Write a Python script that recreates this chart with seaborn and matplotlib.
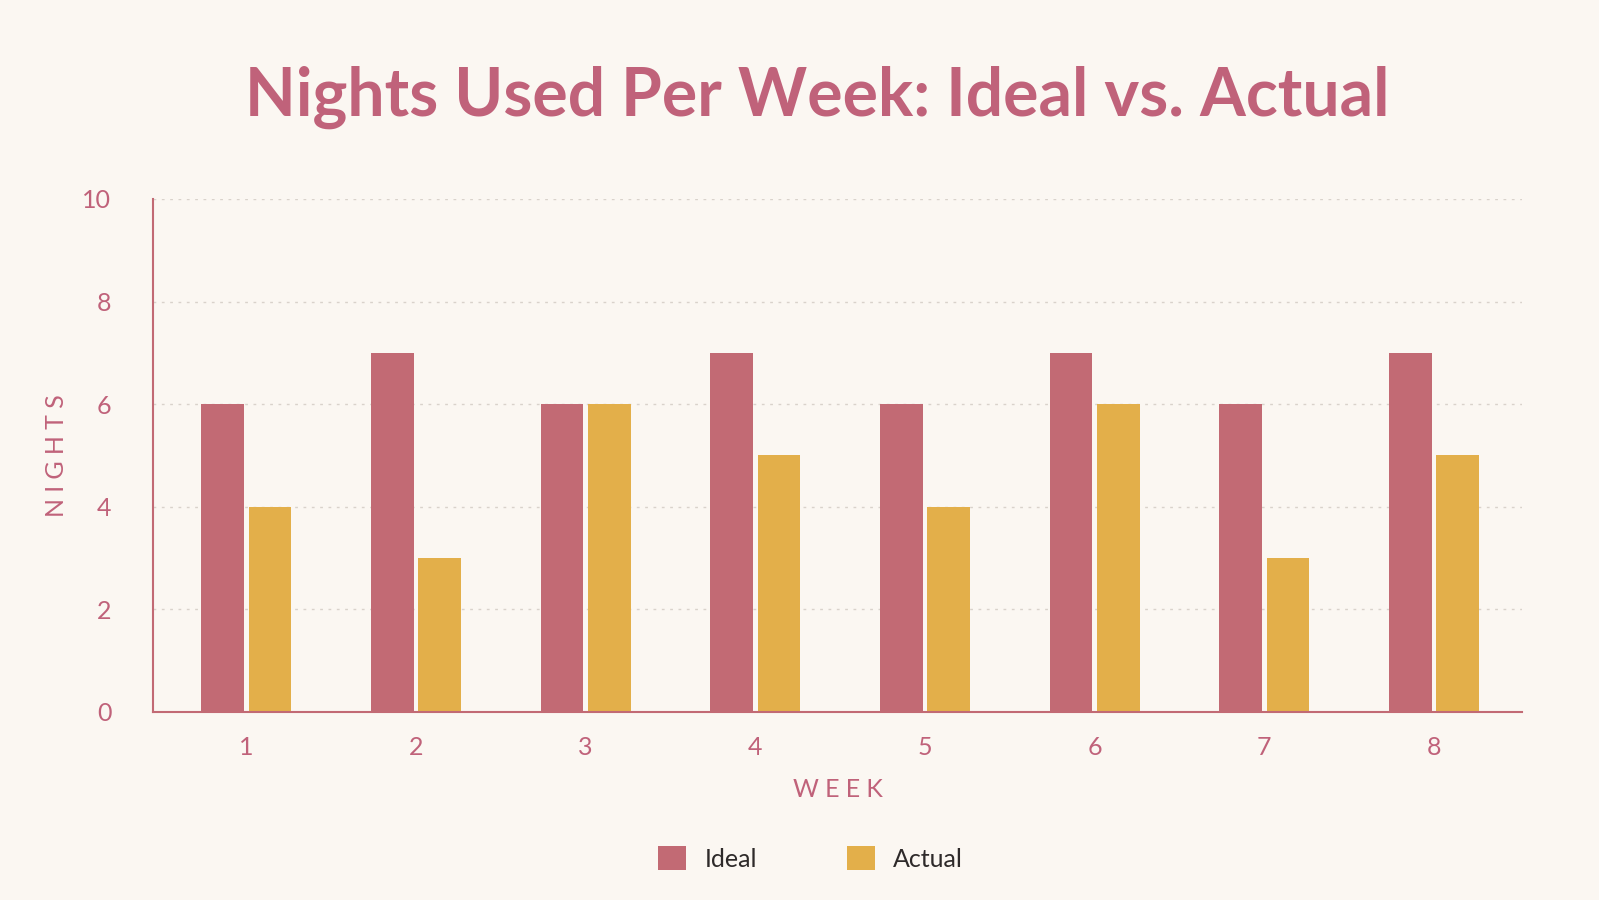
import pandas as pd
import numpy as np
import matplotlib.pyplot as plt
import seaborn as sns

# datos
semanas = ['1', '2', '3', '4', '5', '6', '7', '8']
ideal = [6, 7, 6, 7, 6, 7, 6, 7]
actual = [4, 3, 6, 5, 4, 6, 3, 5]
series = ['Ideal', 'Actual']

FONDO = '#FBF7F2'
ROSA = '#C26A74'
AMBAR = '#E3AF4A'
TEXTO = '#C0627A'
GRIS = '#D9D2CB'

df = pd.DataFrame({
    'week': semanas * 2,
    'nights': ideal + actual,
    'serie': [series[0]] * len(semanas) + [series[1]] * len(semanas),
})

sns.set_theme(style='white')
plt.rcParams['font.family'] = ['Lato', 'DejaVu Sans']

fig = plt.figure(figsize=(15.99, 9), dpi=100)
fig.patch.set_facecolor(FONDO)
ax = fig.add_axes([0.0957, 0.209, 0.8563, 0.570])
ax.set_facecolor(FONDO)

sns.barplot(data=df, x='week', y='nights', hue='serie', order=semanas,
            hue_order=series, palette=[ROSA, AMBAR], width=0.56, gap=0.1,
            saturation=1, ax=ax, legend=True, edgecolor='none')

ax.set_ylim(0, 10)
ax.set_xlim(-0.55, 7.52)
ax.set_yticks([0, 2, 4, 6, 8, 10])
ax.yaxis.grid(True, color=GRIS, linestyle=(0, (2, 4)), linewidth=1.0)
ax.set_axisbelow(True)
for lado in ['top', 'right']:
    ax.spines[lado].set_visible(False)
for lado in ['left', 'bottom']:
    ax.spines[lado].set_color(ROSA)
    ax.spines[lado].set_linewidth(1.5)
ax.tick_params(axis='both', length=0, colors=TEXTO, labelsize=18)
ax.tick_params(axis='y', pad=30)
ax.tick_params(axis='x', pad=17)

ax.set_xlabel('W\u2009\u2009E\u2009\u2009E\u2009\u2009K', fontsize=18, color=TEXTO, labelpad=14)
ax.set_ylabel('N\u2009\u2009I\u2009\u2009G\u2009\u2009H\u2009\u2009T\u2009\u2009S', fontsize=18,
              color=TEXTO, labelpad=10)

fig.text(0.511, 0.892, 'Nights Used Per Week: Ideal vs. Actual', fontsize=47.5,
         fontweight='bold', color=TEXTO, ha='center', va='center')

ax.legend_.remove()
h, l = ax.get_legend_handles_labels()
fig.legend(h, l, loc='center', bbox_to_anchor=(0.507, 0.046), ncol=2, frameon=False,
           fontsize=18, labelcolor='#2E2A2A', handlelength=1.1, handleheight=1.1,
           columnspacing=3.6, handletextpad=0.75)

plt.savefig('out.png', dpi=100, facecolor=FONDO)
